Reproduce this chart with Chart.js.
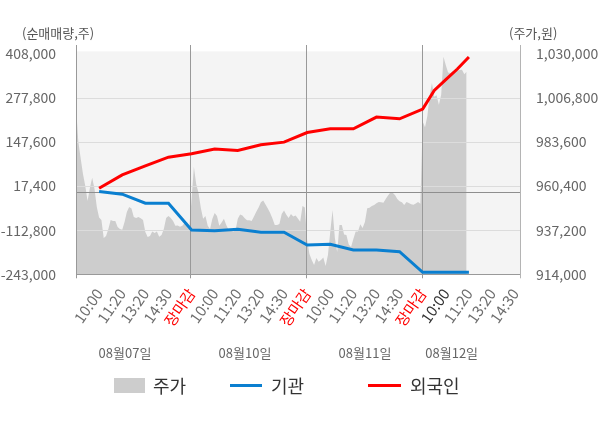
<!DOCTYPE html>
<html>
<head>
<meta charset="utf-8">
<script src="https://cdn.jsdelivr.net/npm/chart.js@4.4.1/dist/chart.umd.min.js"></script>
<style>
html,body{margin:0;padding:0;background:#fff;}
#wrap{position:relative;width:600px;height:428px;overflow:hidden;font-family:"Noto Sans CJK KR","Noto Sans",sans-serif;}
#c{position:absolute;left:0;top:0;}
.t{position:absolute;font-size:13px;line-height:18px;color:#555;white-space:nowrap;}
.d{position:absolute;width:100px;text-align:center;font-size:13px;line-height:18px;color:#666;white-space:nowrap;}
.lt{position:absolute;font-size:18px;line-height:24px;color:#333;white-space:nowrap;}
.sw{position:absolute;}
</style>
</head>
<body>
<div id="wrap">
<canvas id="c" width="600" height="428"></canvas>
<div class="t" style="left:22px;top:24px">(순매매량,주)</div>
<div class="t" style="left:509px;top:24px">(주가,원)</div>
<div id="dates"></div>
<div class="sw" style="left:114px;top:378px;width:31px;height:15px;background:#cdcdcd"></div>
<div class="lt" style="left:153px;top:373px">주가</div>
<div class="sw" style="left:230px;top:384px;width:32px;height:3px;background:#0a7fd0"></div>
<div class="lt" style="left:271px;top:373px">기관</div>
<div class="sw" style="left:368px;top:384px;width:33px;height:3px;background:#ff0000"></div>
<div class="lt" style="left:410px;top:373px">외국인</div>
</div>
<script>
// ---- data ----
const timeLabels = ['10:00','11:20','13:20','14:30','장마감',
                    '10:00','11:20','13:20','14:30','장마감',
                    '10:00','11:20','13:20','14:30','장마감',
                    '10:00','11:20','13:20','14:30'];
const dayLabels = ['08월07일','08월10일','08월11일','08월12일'];
const dayStarts = [0, 50, 100, 150];   // time index where each day begins
const leftTicks = [-243000, -112800, 17400, 147600, 277800, 408000];
const rightTicks = [914000, 937200, 960400, 983600, 1006800, 1030000];

const priceDay1 = [1002400, 983900, 975300, 966900, 960600, 952600, 959500, 964800, 959000, 949500,
  943900, 942600, 933100, 934200, 937900, 942600, 942100, 942100, 938900, 937900,
  937400, 941600, 946800, 949500, 948700, 944200, 943700, 944200, 943500, 942600,
  936300, 933700, 934200, 936500, 935800, 936500, 933800, 934700, 937900, 943700,
  944700, 943700, 942100, 939500, 939700, 939100, 939500, 941000, 941600, 939100];
const priceDay2 = [953200, 970600, 961600, 956900, 949000, 943200, 944700, 939500, 937900, 943200,
  946300, 944700, 939500, 941300, 943200, 940000, 937400, 937100, 936500, 937100,
  943200, 945500, 945000, 943500, 942400, 942500, 942100, 944500, 947000, 949200,
  951900, 952900, 950700, 948700, 946300, 943400, 940000, 940000, 940500, 945800,
  947600, 945300, 943700, 945800, 944500, 945000, 943400, 941700, 950000, 949200];
const priceDay3 = [932100, 924700, 921500, 918900, 922600, 920600, 921500, 922900, 918400, 924200,
  936300, 947900, 933100, 925800, 940000, 940000, 935000, 934700, 929700, 928400,
  932600, 936500, 936500, 940300, 938400, 941600, 948800, 949100, 950000, 950500,
  951400, 952100, 951900, 951700, 953700, 955500, 957100, 957000, 955800, 953700,
  952500, 951900, 950500, 952100, 951600, 950900, 950600, 951300, 952100, 951100];
const priceDay4 = [994500, 991400, 997200, 1008000, 1014700, 1007500, 1008300, 1003300, 1008500, 1028600,
  1024100, 1020200, 1020000, 1020900, 1021500, 1021200, 1021600, 1021700, 1019300, 1020700];

const flowTimes = [10, 20, 30, 40, 50, 60, 70, 80, 90, 100, 110, 120, 130, 140, 150, 155, 160, 165, 170];
const institution = [1400, -6300, -32900, -32900, -111900, -114000, -109800, -118700, -118700, -156300,
  -154200, -171100, -171100, -176100, -237100, -237100, -237100, -237100, -237100];
const foreign = [11500, 50800, 77500, 103200, 113000, 126900, 122700, 139600, 147600, 176000,
  187000, 187000, 221600, 216500, 245300, 300300, 332000, 363600, 399100];

// ---- build ----
const prices = [].concat(priceDay1, priceDay2, priceDay3, priceDay4);
const priceData = prices.map((p, i) => ({x: i, y: p}));
const instData = flowTimes.map((t, i) => ({x: t, y: institution[i]}));
const forData = flowTimes.map((t, i) => ({x: t, y: foreign[i]}));
const FONT = '"Noto Sans CJK KR","Noto Sans",sans-serif';
Chart.defaults.font.family = FONT;

// date labels
const datePos = [125, 245, 365, 451.7];
const dates = document.getElementById('dates');
dayLabels.forEach((t, i) => {
  const d = document.createElement('div');
  d.className = 'd'; d.textContent = t;
  d.style.left = (datePos[i] - 50) + 'px'; d.style.top = '344px';
  dates.appendChild(d);
});

const fmt = v => Number(v).toLocaleString('en-US');

const decor = {
  id: 'decor',
  beforeDraw(chart) {
    const {ctx, chartArea: a} = chart;
    ctx.save();
    ctx.fillStyle = '#f4f4f4';
    ctx.fillRect(a.left, a.top - 2.6, a.right - a.left, a.bottom - a.top + 2.6);
    ctx.restore();
  },
  afterDatasetDraw(chart, args) {
    if (args.index !== 0) return;
    const {ctx, chartArea: a, scales} = chart;
    const ys = scales.y, xs = scales.x;
    const ln = (x1, y1, x2, y2) => { ctx.beginPath(); ctx.moveTo(x1, y1); ctx.lineTo(x2, y2); ctx.stroke(); };
    ctx.save();
    ctx.lineWidth = 1;
    ctx.strokeStyle = '#dcdcdc';
    leftTicks.slice(1, leftTicks.length - 1).forEach(v => {
      const py = Math.round(ys.getPixelForValue(v)) + 0.5;
      ln(a.left, py, a.right, py);
    });
    ctx.strokeStyle = '#8e8e8e';
    const zy = Math.round(ys.getPixelForValue(0)) + 0.5;
    ln(a.left, zy, a.right, zy);
    ctx.strokeStyle = '#999';
    dayStarts.forEach((s, i) => {
      const px = (i === 0 ? Math.round(a.left) : Math.round(xs.getPixelForValue(s - 0.5))) + 0.5;
      ln(px, a.top - 9, px, a.bottom + 4);
    });
    const by = Math.round(a.bottom) + 0.5;
    ln(a.left, by, a.right, by);
    ctx.strokeStyle = '#b4b4b4';
    const rx = Math.round(a.right) + 0.5;
    ln(rx, a.top - 9, rx, a.bottom + 4);
    ctx.restore();
  }
};

const labelColor = i => timeLabels[i] === '장마감' ? '#ff0000' : (i === 15 ? '#333333' : '#6e6e6e');

new Chart(document.getElementById('c'), {
  type: 'line',
  data: {
    datasets: [
      {label: '주가', data: priceData, yAxisID: 'y2', backgroundColor: '#cdcdcd',
       borderWidth: 0, pointRadius: 0, tension: 0, fill: 'start', order: 3},
      {label: '기관', data: instData, yAxisID: 'y', borderColor: '#0a7fd0',
       borderWidth: 3, pointRadius: 0, tension: 0, fill: false, order: 2},
      {label: '외국인', data: forData, yAxisID: 'y', borderColor: '#ff0000',
       borderWidth: 3, pointRadius: 0, tension: 0, fill: false, order: 1}
    ]
  },
  options: {
    responsive: false,
    animation: false,
    events: [],
    layout: {padding: {top: 54, left: 0, right: 0, bottom: 0}},
    plugins: {legend: {display: false}, tooltip: {enabled: false}},
    scales: {
      x: {
        type: 'linear', min: 0, max: 192.1, offset: false,
        grid: {display: true, color: 'rgba(0,0,0,0)', drawTicks: true, tickLength: 0},
        border: {display: false},
        afterBuildTicks: s => { s.ticks = timeLabels.map((_, i) => ({value: (i + 1) * 10})); },
        afterFit: s => { s.height = 153.7; },
        ticks: {
          autoSkip: false, minRotation: 55, maxRotation: 55, padding: 11,
          font: {size: 15, family: FONT},
          color: c => labelColor(c.index),
          callback: (v, i) => timeLabels[i]
        }
      },
      y: {
        position: 'left', min: -243000, max: 408000,
        grid: {display: false}, border: {display: false},
        afterBuildTicks: s => { s.ticks = leftTicks.map(v => ({value: v})); },
        afterFit: s => { s.width = 76; },
        ticks: {padding: 12, color: '#666', font: {size: 14, family: FONT}, callback: v => fmt(v)}
      },
      y2: {
        position: 'right', min: 914000, max: 1030000,
        grid: {display: false}, border: {display: false},
        afterBuildTicks: s => { s.ticks = rightTicks.map(v => ({value: v})); },
        afterFit: s => { s.width = 80; },
        ticks: {padding: 8, color: '#666', font: {size: 14, family: FONT}, callback: v => fmt(v)}
      }
    }
  },
  plugins: [decor]
});
</script>
</body>
</html>
